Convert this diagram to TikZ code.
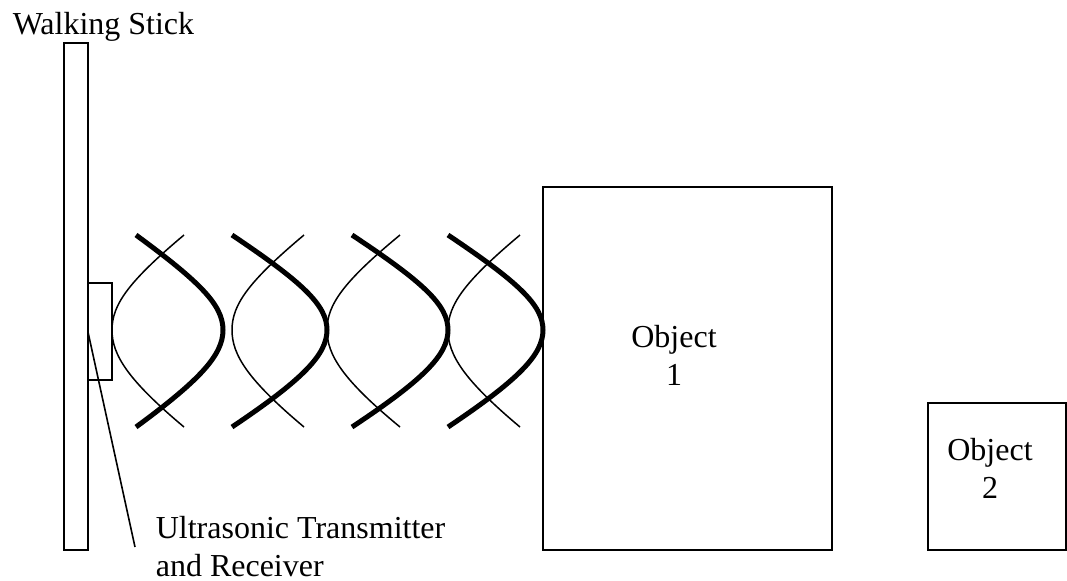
\documentclass[tikz,border=0pt]{standalone}
\usepackage{fontspec}
\setmainfont{Liberation Serif}
\tikzset{
 thinwave/.style={line width=0.75pt},
 thickwave/.style={line width=2.5pt},
 label/.style={inner sep=0pt,font=\fontsize{16}{19}\selectfont}
}
\begin{document}
\begin{tikzpicture}[x=0.5pt,y=-0.5pt,line width=0.8pt]
 \useasboundingbox (0,0) rectangle (1067,580);
 \draw (64,43) rectangle (88,550);
 \draw (88,283) rectangle (112,380);
 \draw (543,187) rectangle (832,550);
 \draw (928,403) rectangle (1066,550);
 \node[label,anchor=base west] (stick) at (12,34) {Walking Stick};
 \node[label,align=center,anchor=base] (obj1) at (674,385) {Object\\1};
 \node[label,align=center,anchor=base] (obj2) at (990,498) {Object\\2};
 \node[label,align=left,anchor=base west] (sensor) at (155,576) {Ultrasonic Transmitter\\and Receiver};
 \coordinate (tip) at (88,332);
 \coordinate (tail) at (135,547);
 \draw (tip) -- (tail);
 \draw[thinwave] (184,235) .. controls (128,282) and (112,305) .. (112,330) .. controls (112,355) and (128,380) .. (184,427);
 \draw[thickwave] (136,235) .. controls (200,282) and (223,305) .. (223,330) .. controls (223,355) and (200,380) .. (136,427);
 \draw[thinwave] (304,235) .. controls (248,282) and (232,305) .. (232,330) .. controls (232,355) and (248,380) .. (304,427);
 \draw[thickwave] (232,235) .. controls (302,282) and (327,305) .. (327,330) .. controls (327,355) and (302,380) .. (232,427);
 \draw[thinwave] (400,235) .. controls (343,282) and (327,305) .. (327,330) .. controls (327,355) and (343,380) .. (400,427);
 \draw[thickwave] (352,235) .. controls (423,282) and (448,305) .. (448,330) .. controls (448,355) and (423,380) .. (352,427);
 \draw[thinwave] (520,235) .. controls (464,282) and (448,305) .. (448,330) .. controls (448,355) and (464,380) .. (520,427);
 \draw[thickwave] (448,235) .. controls (518,282) and (543,305) .. (543,330) .. controls (543,355) and (518,380) .. (448,427);
\end{tikzpicture}
\end{document}
